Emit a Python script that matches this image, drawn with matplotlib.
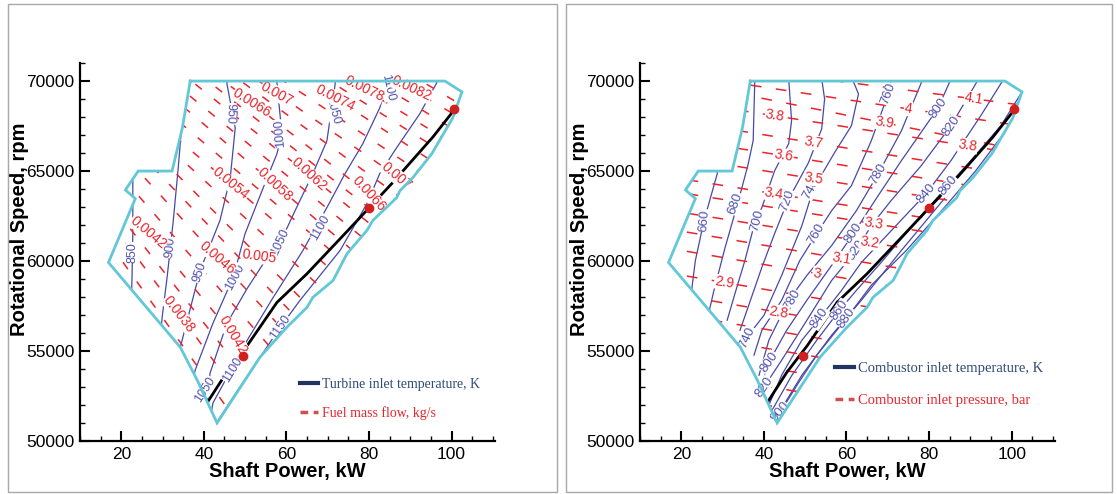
import numpy as np
import matplotlib
matplotlib.use("Agg")
from matplotlib import pyplot as plt
from matplotlib.lines import Line2D
from matplotlib.patches import Polygon, Rectangle
from matplotlib.ticker import MultipleLocator

# operating envelope (shaft power kW, speed rpm) - same for both maps
boundary_x = [36.7, 98.4, 102.5, 100.3, 95.2, 90.6, 87.5, 86.7, 80.9, 79.5, 74.7, 71.3, 66.4, 65.0,
              60.1, 53.6, 43.2, 38.4, 34.3, 16.9, 23.4, 21.0, 24.1, 32.3, 34.8, 36.7]
boundary_y = [70000, 70000, 69400, 67960, 65960, 64630, 63910, 63520, 62250, 61700, 60420, 58920,
              57980, 57430, 56320, 54660, 51000, 53380, 55210, 59920, 63470, 63950, 65000, 65000,
              67400, 70000]

# operating line and design points
op_x = [41.0, 45.5, 50.5, 57.7, 65.0, 74.9, 80.0, 85.5, 90.5, 95.5, 100.3]
op_y = [52200, 53800, 55300, 57700, 59300, 61700, 62950, 64300, 65600, 66900, 68300]
pt_x = [49.4, 80.0, 100.5]
pt_y = [54750, 62950, 68450]

# ---- left map: turbine inlet temperature (K) ----
tit_lines = {
    850: [(22.8, 65000), (22.8, 61500), (22.6, 59000), (22.4, 57500)],
    900: [(34.6, 67500), (34.3, 66570), (33.8, 65190), (32.6, 62250), (31.1, 59090), (29.9, 56870), (29.5, 55800)],
    950: [(45.8, 71000), (45.6, 69840), (47.6, 67400), (46.4, 64630), (43.9, 62250), (39.1, 59480), (34.3, 55210), (33.5, 54500)],
    1000: [(57.7, 71000), (57.7, 69900), (58.9, 67070), (57.7, 65960), (54.1, 63910), (50.0, 61530), (47.1, 59090),
           (42.2, 56540), (37.9, 53940), (37.0, 53000)],
    1050: [(72.0, 71000), (71.8, 69840), (69.8, 66680), (66.4, 64860), (62.1, 62800), (58.5, 61030), (56.0, 60420),
           (50.5, 58480), (45.6, 56540), (41.5, 53770), (40.5, 51500)],
    1100: [(85.0, 71000), (84.6, 70000), (82.6, 68510), (78.5, 66520), (74.2, 64860), (69.8, 62970), (64.0, 60590),
           (56.8, 57980), (50.5, 55600), (42.2, 52110), (41.5, 51200)],
    1150: [(96.6, 71000), (96.4, 69900), (92.3, 68180), (86.7, 66300), (82.6, 64860), (79.5, 63190), (73.0, 60590),
           (63.3, 57820), (58.5, 56320), (47.1, 52440), (43.5, 51160), (43.0, 50500)],
}
tit_labels = [("850", 22.66, 60476, 90), ("900", 31.85, 60753, 85), ("950", 46.36, 68181, -92),
              ("1000", 58.45, 67072, 95), ("1050", 71.27, 68347, -75), ("1100", 84.57, 69622, -78),
              ("1050", 58.45, 61030, 65), ("1100", 68.13, 61862, 60), ("950", 39.11, 59368, 72),
              ("1000", 47.57, 59091, 62), ("1150", 58.45, 56319, 55), ("1100", 47.09, 53936, 58),
              ("1050", 40.31, 52827, 57)]

# fuel mass flow (kg/s): two points on each iso-line
fuel_lines = {
    0.0034: ((25.08, 57040), (49.26, 49002)), 0.0036: ((29.43, 57040), (53.62, 49279)),
    0.0038: ((34.03, 57040), (58.21, 49557)), 0.0040: ((38.38, 57040), (62.56, 49945)),
    0.0042: ((26.53, 61585), (47.09, 55876)), 0.0044: ((37.17, 60199), (61.35, 53825)),
    0.0046: ((43.22, 60199), (67.40, 54102)), 0.0048: ((48.30, 60255), (72.48, 54434)),
    0.0050: ((53.37, 60255), (77.56, 54712)), 0.0052: ((50.71, 62250), (74.90, 57150)),
    0.0054: ((46.36, 64301), (70.54, 59590)), 0.0056: ((51.92, 64246), (76.11, 59534)),
    0.0058: ((57.24, 64246), (81.43, 59534)), 0.0060: ((62.81, 64246), (86.99, 59700)),
    0.0062: ((68.37, 64246), (92.55, 59811)), 0.0064: ((41.28, 69955), (65.47, 65576)),
    0.0066: ((45.15, 69955), (69.33, 65631)), 0.0068: ((49.26, 69955), (73.45, 65908)),
    0.0070: ((53.62, 69955), (77.80, 66130)), 0.0072: ((59.66, 69955), (83.85, 66241)),
    0.0074: ((65.71, 69955), (89.89, 66352)), 0.0076: ((70.79, 69955), (94.97, 66463)),
    0.0078: ((76.11, 69955), (100.29, 66518)), 0.0080: ((81.67, 69955), (105.85, 66574)),
    0.0082: ((87.47, 69955), (111.66, 66629)), 0.0084: ((93.03, 69955), (117.22, 66629)),
}
fuel_labels = [("0.0066", 51.68, 68791, -32), ("0.007", 57.73, 69290, -29), ("0.0074", 71.75, 69068, -27),
               ("0.0078", 78.77, 69567, -26), ("0.0082", 90.37, 69567, -25), ("0.0054", 46.36, 64301, -39),
               ("0.0058", 57.24, 64246, -43), ("0.0062", 65.47, 64800, -42), ("0.0066", 79.98, 63747, -47),
               ("0.007", 86.51, 64744, -40), ("0.0042", 26.53, 61585, -40), ("0.0046", 43.22, 60199, -41),
               ("0.005", 53.37, 60255, -8), ("0.0038", 34.03, 57040, -52), ("0.0042", 47.09, 55876, -59)]

# ---- right map: combustor inlet temperature (K) ----
cit_lines = {
    660: [(28.9, 65600), (28.7, 64850), (25.5, 62250), (23.4, 60030), (22.7, 58760), (22.2, 57800)],
    680: [(37.8, 70120), (37.4, 66690), (36.1, 65300), (33.5, 63080), (30.6, 60750), (27.9, 58370), (26.5, 56980)],
    700: [(46.0, 70120), (46.7, 67790), (46.0, 66520), (42.6, 65020), (39.5, 62970), (37.8, 62140), (35.4, 60030),
          (33.0, 58200), (31.1, 56710)],
    720: [(54.0, 70120), (54.7, 69010), (54.0, 67350), (50.8, 65470), (45.8, 63360), (42.6, 61530), (39.5, 59650),
          (35.9, 57260), (34.2, 56150)],
    740: [(61.4, 70120), (62.9, 69290), (61.2, 67520), (57.1, 66020), (52.0, 64020), (49.2, 61970), (44.3, 59200),
          (40.0, 56980), (35.9, 55770), (34.2, 55040)],
    760: [(70.8, 70120), (70.1, 69290), (66.0, 66680), (61.2, 64190), (56.4, 62800), (52.8, 61530), (48.7, 60030),
          (44.3, 57820), (39.5, 56150), (37.6, 54770)],
    780: [(78.5, 70120), (73.3, 67240), (67.7, 64860), (62.4, 62800), (56.4, 60860), (50.4, 59200), (46.0, 57820),
          (41.2, 55600), (38.8, 53650)],
    800: [(85.3, 70120), (82.2, 68510), (73.3, 65580), (67.2, 63470), (61.7, 61530), (56.4, 59760), (50.4, 57820),
          (45.5, 56150), (41.2, 54380), (39.5, 53100)],
    820: [(92.0, 70120), (85.3, 67520), (78.1, 65300), (70.8, 63360), (66.0, 61970), (62.4, 60590), (56.4, 58920),
          (50.4, 56710), (44.3, 54490), (40.0, 52990), (38.8, 52270)],
    840: [(98.1, 70120), (92.5, 68070), (85.3, 65580), (79.3, 63750), (72.0, 61970), (63.6, 59920), (58.8, 58370),
          (53.5, 56820), (49.2, 55600), (44.3, 53660), (40.7, 51720)],
    860: [(103.4, 69730), (97.4, 67520), (90.1, 65580), (84.6, 64190), (78.1, 62530), (68.4, 59920), (62.4, 58370),
          (58.3, 57260), (52.8, 55600), (46.8, 53660), (42.0, 51720)],
    880: [(104.6, 69180), (98.6, 67240), (91.3, 65020), (84.1, 63080), (74.5, 60590), (66.0, 58650), (60.0, 56820),
          (52.8, 54770), (48.0, 53100), (44.3, 51720)],
    900: [(85.3, 63910), (73.3, 60590), (63.6, 57820), (56.4, 55880), (49.2, 53660), (44.8, 52000), (43.1, 51160)],
}
cit_labels = [("660", 25.54, 62250, 85), ("680", 33.01, 63193, 70), ("700", 38.31, 62250, 75),
              ("720", 45.54, 63359, 70), ("740", 51.57, 64024, 60), ("760", 70.12, 69290, 70),
              ("760", 52.77, 61530, 60), ("780", 67.71, 64855, 60), ("800", 82.17, 68514, 55),
              ("820", 85.30, 67516, 55), ("840", 79.28, 63747, 50), ("860", 84.58, 64190, 50),
              ("800", 61.69, 61530, 55), ("820", 62.41, 60587, 55), ("740", 35.90, 55765, 65),
              ("780", 46.75, 57816, 60), ("840", 53.49, 56818, 55), ("860", 58.31, 57262, 55),
              ("880", 60.0, 56818, 55), ("800", 41.20, 54379, 55), ("820", 40.0, 52993, 55),
              ("900", 43.86, 51607, 50)]

# combustor inlet pressure (bar): y at 34.7 kW and at 104.58 kW
press_x = (34.70, 104.58)
press_lines = {
    4.1: (70692, 68602), 4.0: (69844, 67433), 3.9: (69268, 66052), 3.8: (68353, 65864),
    3.7: (67211, 64639), 3.6: (66224, 63652), 3.5: (65215, 62644), 3.4: (64029, 61457),
    3.3: (63253, 60681), 3.2: (62167, 59595), 3.1: (61086, 58353), 3.0: (60016, 57283),
    2.9: (58642, 55909), 2.8: (57500, 54767), 2.7: (56430, 53714), 2.6: (55377, 52661),
    2.5: (54323, 51607), 2.4: (53270, 50554), 2.3: (52217, 49501),
}
press_labels = [("3.8", 42.65, 68070), ("3.7", 52.05, 66574), ("3.6", 44.82, 65853), ("3.5", 52.05, 64578),
                ("3.4", 42.41, 63747), ("3.9", 69.16, 67682), ("4", 74.94, 68458), ("4.1", 90.84, 69013),
                ("3.8", 89.40, 66407), ("3.3", 66.51, 62084), ("3.2", 65.54, 61031), ("3.1", 58.80, 60144),
                ("3", 52.77, 59312), ("2.9", 30.36, 58813), ("2.8", 43.61, 57150)]

CYAN = '#62c8d8'
BLUE = '#4848a8'
BLUE_TXT = '#5050b0'
RED = '#e8242c'
NAVY = '#1f3560'

plt.rcParams['font.family'] = ['Liberation Sans', 'DejaVu Sans']

fig = plt.figure(figsize=(11.17, 4.94), dpi=100)
ax1 = fig.add_axes([0.0716, 0.1073, 0.3715, 0.765])
ax2 = fig.add_axes([0.573, 0.1073, 0.3715, 0.765])

# panel frames
fig.add_artist(Rectangle((8 / 1117, 2 / 494), 549 / 1117, 488 / 494, transform=fig.transFigure,
                         fill=False, ec='#a8a8a8', lw=1))
fig.add_artist(Rectangle((566 / 1117, 2 / 494), 546 / 1117, 488 / 494, transform=fig.transFigure,
                         fill=False, ec='#a8a8a8', lw=1))


def setup_axes(ax):
    ax.set_xlim(10, 110.5)
    ax.set_ylim(50000, 71000)
    for s in ['top', 'right']:
        ax.spines[s].set_visible(False)
    for s in ['left', 'bottom']:
        ax.spines[s].set_linewidth(1.6)
    ax.xaxis.set_major_locator(MultipleLocator(20))
    ax.xaxis.set_minor_locator(MultipleLocator(5))
    ax.yaxis.set_major_locator(MultipleLocator(5000))
    ax.yaxis.set_minor_locator(MultipleLocator(1000))
    ax.set_xticks([20, 40, 60, 80, 100])
    ax.tick_params(which='major', direction='in', length=7, width=1.5, labelsize=12.5, pad=4)
    ax.tick_params(which='minor', direction='in', length=3.5, width=1)
    ax.ticklabel_format(axis='y', style='plain', useOffset=False)
    ax.set_xlabel('Shaft Power, kW', fontsize=14.5, fontweight='bold', labelpad=0)
    ax.set_ylabel('Rotational Speed, rpm', fontsize=14.5, fontweight='bold')
    ax.yaxis.set_label_coords(-0.122, 0.56)


def draw_map(ax, blue_lines, blue_labels, blue_fs, red_segments, red_labels, red_fs, dash):
    clip = Polygon(np.column_stack([boundary_x, boundary_y]), closed=True, fc='none', ec='none')
    ax.add_patch(clip)
    for lvl, pts in blue_lines.items():
        xs, ys = zip(*pts)
        ln, = ax.plot(xs, ys, color=BLUE, lw=0.9, zorder=2)
        ln.set_clip_path(clip)
    for (p1, p2) in red_segments:
        p1 = np.array(p1, dtype=float)
        p2 = np.array(p2, dtype=float)
        d = p2 - p1
        a, b = p1 - 2 * d, p2 + 2 * d
        ln, = ax.plot([a[0], b[0]], [a[1], b[1]], color=RED, lw=1.1, ls=(0, dash), zorder=2)
        ln.set_clip_path(clip)
    ax.plot(op_x, op_y, color='black', lw=2.0, zorder=3)
    for s, x, y, r in blue_labels:
        ax.text(x, y, s, color=BLUE_TXT, fontsize=blue_fs, rotation=r, rotation_mode='anchor',
                ha='center', va='center', zorder=4,
                bbox=dict(fc='white', ec='none', pad=0.3))
    for s, x, y, r in red_labels:
        ax.text(x, y, s, color=RED, fontsize=red_fs, rotation=r, rotation_mode='anchor',
                ha='center', va='center', zorder=4,
                bbox=dict(fc='white', ec='none', pad=0.3))
    ax.plot(boundary_x, boundary_y, color=CYAN, lw=2.0, zorder=5, solid_joinstyle='miter')
    ax.plot(pt_x, pt_y, 'o', color='#d02020', ms=6, zorder=6)


setup_axes(ax1)
setup_axes(ax2)

draw_map(ax1, tit_lines, tit_labels, 9,
         list(fuel_lines.values()), fuel_labels, 10, (5.5, 10))

press_segs = [((press_x[0], ya), (press_x[1], yb)) for ya, yb in press_lines.values()]
draw_map(ax2, cit_lines, cit_labels, 9.5,
         press_segs, [(s, x, y, -9) for s, x, y in press_labels], 10, (7, 9.5))

h_blue = Line2D([], [], color=NAVY, lw=3)
h_red = Line2D([], [], color='#d05050', lw=2.5, ls=(0, (2.2, 1.6)))

ax1.legend([h_blue, h_red], ['Turbine inlet temperature, K', 'Fuel mass flow, kg/s'],
           loc='lower left', bbox_to_anchor=(0.517, 0.04), frameon=False, handlelength=1.3,
           handletextpad=0.3, labelspacing=1.15, borderaxespad=0,
           prop={'family': 'Liberation Serif', 'size': 10}, labelcolor=['#2f4a7a', RED])
ax2.legend([h_blue, h_red], ['Combustor inlet temperature, K', 'Combustor inlet pressure, bar'],
           loc='lower left', bbox_to_anchor=(0.456, 0.074), frameon=False, handlelength=1.3,
           handletextpad=0.3, labelspacing=1.3, borderaxespad=0,
           prop={'family': 'Liberation Serif', 'size': 10.5}, labelcolor=['#2f4a7a', RED])

fig.savefig('out.png', dpi=100)
